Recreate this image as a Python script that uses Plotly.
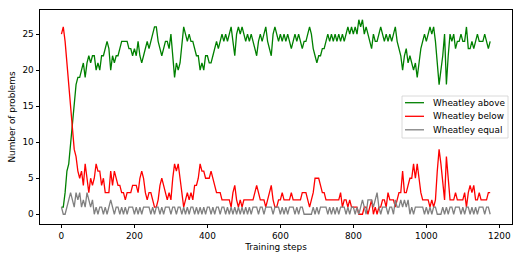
import plotly.graph_objects as go

step_interval = 5
n_points = 236
steps = [i * step_interval for i in range(n_points)]

wheatley_above = [
    1, 1, 3, 6, 7, 10, 13, 16, 18, 19,
    19, 20, 21, 19, 21, 22, 21, 22, 22, 20,
    21, 20, 22, 22, 23, 24, 23, 20, 22, 21,
    22, 22, 23, 24, 24, 24, 24, 23, 23, 22,
    23, 22, 24, 22, 21, 22, 23, 24, 23, 24,
    25, 26, 26, 24, 23, 22, 23, 24, 24, 23,
    25, 22, 19, 21, 20, 21, 24, 26, 25, 24,
    25, 24, 24, 23, 22, 22, 20, 21, 20, 22,
    22, 21, 21, 22, 23, 24, 23, 24, 25, 24,
    25, 24, 25, 26, 24, 22, 25, 26, 25, 26,
    25, 24, 25, 24, 25, 24, 23, 22, 24, 25,
    24, 25, 26, 24, 23, 22, 25, 26, 25, 24,
    25, 24, 25, 24, 25, 24, 23, 24, 25, 24,
    25, 24, 23, 24, 24, 25, 26, 25, 23, 22,
    21, 22, 22, 23, 23, 24, 25, 24, 25, 24,
    25, 24, 25, 24, 25, 24, 25, 26, 25, 26,
    25, 26, 25, 27, 26, 27, 25, 26, 25, 24,
    23, 25, 24, 24, 25, 26, 25, 24, 25, 24,
    25, 24, 25, 26, 24, 23, 22, 20, 22, 23,
    21, 22, 21, 20, 21, 19, 21, 23, 24, 25,
    24, 25, 26, 25, 26, 24, 21, 18, 20, 22,
    25, 18, 22, 25, 24, 25, 23, 24, 24, 25,
    24, 24, 26, 23, 23, 24, 23, 24, 25, 24,
    24, 24, 25, 24, 23, 24,
]

wheatley_below = [
    25, 26, 24, 21, 18, 15, 12, 9, 8, 6,
    5, 6, 4, 7, 5, 3, 5, 4, 5, 7,
    6, 6, 4, 5, 3, 3, 3, 6, 4, 6,
    5, 4, 4, 3, 3, 2, 3, 3, 3, 4,
    4, 4, 3, 5, 6, 5, 3, 2, 3, 3,
    2, 1, 1, 2, 4, 5, 4, 3, 2, 3,
    2, 5, 7, 6, 7, 5, 3, 1, 2, 3,
    2, 3, 2, 4, 4, 5, 7, 6, 6, 5,
    5, 5, 6, 5, 4, 3, 3, 3, 2, 2,
    2, 2, 2, 1, 3, 4, 2, 1, 2, 1,
    2, 2, 2, 2, 2, 2, 3, 4, 3, 2,
    2, 2, 1, 2, 3, 4, 2, 1, 1, 2,
    2, 3, 2, 2, 2, 2, 3, 2, 2, 2,
    2, 2, 3, 3, 3, 2, 1, 2, 3, 5,
    5, 5, 4, 3, 3, 2, 2, 2, 2, 2,
    2, 2, 2, 3, 1, 2, 2, 1, 2, 1,
    1, 1, 1, 0, 0, 0, 1, 1, 0, 1,
    2, 0, 1, 0, 1, 1, 2, 2, 1, 3,
    2, 2, 2, 1, 2, 3, 3, 6, 3, 3,
    4, 5, 5, 7, 5, 7, 5, 3, 2, 2,
    2, 2, 1, 2, 1, 2, 6, 9, 7, 4,
    2, 8, 5, 2, 2, 2, 3, 2, 2, 2,
    2, 3, 1, 3, 4, 3, 4, 2, 2, 3,
    2, 2, 2, 2, 3, 3,
]

wheatley_equal = [
    1, 0, 0, 1, 2, 3, 2, 1, 3, 2,
    3, 1, 2, 1, 3, 2, 1, 2, 0, 1,
    0, 1, 1, 0, 1, 0, 1, 2, 1, 0,
    1, 1, 0, 1, 0, 1, 0, 1, 1, 1,
    0, 1, 0, 1, 0, 1, 1, 1, 1, 0,
    1, 0, 1, 1, 0, 1, 0, 1, 1, 1,
    0, 1, 1, 0, 1, 1, 0, 1, 0, 1,
    0, 1, 1, 0, 1, 0, 1, 0, 1, 0,
    1, 1, 0, 1, 0, 1, 1, 0, 1, 1,
    0, 1, 0, 1, 0, 1, 0, 1, 0, 1,
    0, 1, 0, 1, 0, 1, 1, 1, 0, 1,
    1, 0, 1, 1, 1, 1, 0, 1, 1, 1,
    0, 1, 0, 1, 0, 1, 1, 1, 0, 1,
    0, 1, 1, 0, 0, 0, 0, 0, 1, 0,
    1, 0, 1, 1, 1, 1, 0, 1, 0, 1,
    0, 1, 0, 1, 1, 1, 0, 1, 0, 1,
    1, 0, 1, 0, 1, 2, 1, 0, 2, 2,
    2, 1, 2, 3, 1, 0, 1, 1, 1, 0,
    1, 1, 0, 2, 1, 1, 2, 1, 2, 1,
    2, 0, 1, 0, 1, 1, 1, 1, 1, 0,
    1, 0, 1, 0, 1, 1, 0, 0, 0, 1,
    0, 1, 0, 1, 1, 0, 1, 1, 1, 0,
    1, 0, 1, 1, 0, 1, 0, 1, 0, 1,
    1, 1, 0, 1, 1, 0,
]

x_ticks = [0, 200, 400, 600, 800, 1000, 1200]
y_ticks = [0, 5, 10, 15, 20, 25]

series = [
    ("Wheatley above", wheatley_above, "#008000"),
    ("Wheatley below", wheatley_below, "#ff0000"),
    ("Wheatley equal", wheatley_equal, "#808080"),
]

W, H = 523, 262
L, R, T, B = 40, 11, 10, 38
pw, ph = W - L - R, H - T - B

def px_x(px):
    return (px - L) / pw

def px_y(py):
    return (H - B - py) / ph

fig = go.Figure()
for name, vals, color in series:
    fig.add_trace(go.Scatter(
        x=steps, y=vals, mode="lines", name=name,
        line=dict(color=color, width=1.3), showlegend=False,
    ))

font = "DejaVu Sans, sans-serif"
fs = 8.9
axis_common = dict(
    showline=True, linecolor="black", linewidth=0.9, mirror=True,
    ticks="outside", ticklen=3.5, tickwidth=0.9, tickcolor="black",
    showgrid=False, zeroline=False, automargin=False,
    tickfont=dict(family=font, size=fs, color="black"),
)

# legend drawn as box + samples + labels (matplotlib-like compact legend)
shapes = [dict(type="rect", xref="paper", yref="paper",
               x0=px_x(402), x1=px_x(508), y0=px_y(138), y1=px_y(96),
               line=dict(color="#d0d0d0", width=0.8), fillcolor="rgba(255,255,255,0.85)",
               layer="above")]
annotations = []
row_y = [102.7, 116.3, 129.8]
for (name, _, color), ry in zip(series, row_y):
    shapes.append(dict(type="line", xref="paper", yref="paper",
                       x0=px_x(405), x1=px_x(424), y0=px_y(ry), y1=px_y(ry),
                       line=dict(color=color, width=1.3), layer="above"))
    annotations.append(dict(xref="paper", yref="paper", x=px_x(431), y=px_y(ry),
                            xanchor="left", yanchor="middle", showarrow=False,
                            text=name, font=dict(family=font, size=fs, color="black")))

fig.update_layout(
    width=W, height=H,
    margin=dict(l=L, r=R, t=T, b=B),
    paper_bgcolor="white", plot_bgcolor="white",
    font=dict(family=font, size=fs, color="black"),
    xaxis=dict(range=[-58.8, 1234.8], tickvals=x_ticks,
               title=dict(text="Training steps", font=dict(family=font, size=fs), standoff=3),
               **axis_common),
    yaxis=dict(range=[-1.35, 28.35], tickvals=y_ticks,
               title=dict(text="Number of problems", font=dict(family=font, size=fs), standoff=5),
               **axis_common),
    shapes=shapes, annotations=annotations,
    showlegend=False,
)

fig.write_html("out.html", config={"displayModeBar": False},
               post_script="document.body.style.margin='0';document.body.style.overflow='hidden';")
